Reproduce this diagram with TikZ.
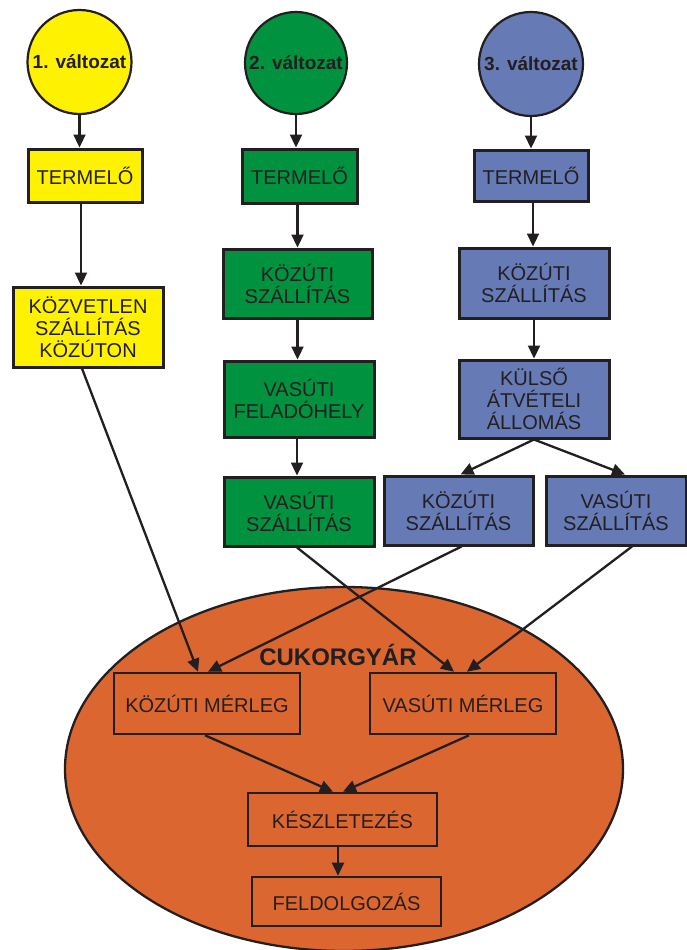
\documentclass[tikz,border=0pt]{standalone}
\usepackage{fontspec}
\setmainfont{Liberation Sans}
\usetikzlibrary{arrows.meta,shapes.geometric}

\definecolor{valtyellow}{RGB}{255,242,0}
\definecolor{valtgreen}{RGB}{0,146,63}
\definecolor{valtblue}{RGB}{102,122,181}
\definecolor{gyarorange}{RGB}{220,102,48}
\definecolor{ink}{RGB}{35,31,32}

\tikzset{
  valt/.style={circle, draw=ink, line width=2.2pt, minimum size=104pt, inner sep=0pt,
    text=ink, font=\fontsize{19}{21}\selectfont\bfseries},
  box/.style={rectangle, draw=ink, line width=3pt, inner sep=0pt, align=center,
    text=ink, font=\fontsize{20}{22}\selectfont},
  mbox/.style={box, line width=2.6pt, minimum width=186pt},
  arr/.style={-{Triangle[length=13pt,width=12pt]}, draw=ink, line width=2.3pt}
}

\begin{document}
\begin{tikzpicture}[x=1pt, y=-1pt]
\useasboundingbox (0,0) rectangle (687,950);

\node[ellipse, draw=ink, fill=gyarorange, line width=2.3pt, inner sep=0pt,
  minimum width=558pt, minimum height=364pt] (gyar) at (344,769) {};
\node[anchor=base, text=ink, font=\fontsize{24}{26}\selectfont\bfseries] (gyarlbl) at (338,665) {CUKORGYÁR};

\node[valt, fill=valtyellow] (c1) at (79.5,62) {1. változat};
\node[valt, fill=valtgreen, minimum size=102pt] (c2) at (296,63) {2. változat};
\node[valt, fill=valtblue] (c3) at (531,64) {3. változat};

\node[box, fill=valtyellow, minimum width=114pt, minimum height=53pt] (t1) at (85,175.5) {TERMELŐ};
\node[box, fill=valtgreen, minimum width=115pt, minimum height=54pt] (t2) at (299.5,176) {TERMELŐ};
\node[box, fill=valtblue, minimum width=114pt, minimum height=51pt] (t3) at (531,175.5) {TERMELŐ};

\node[box, fill=valtyellow, minimum width=150pt, minimum height=80pt] (y1) at (88,327) {KÖZVETLEN\\SZÁLLÍTÁS\\KÖZÚTON};

\node[box, fill=valtgreen, minimum width=149pt, minimum height=69pt] (g1) at (297.5,283.5) {KÖZÚTI\\SZÁLLÍTÁS};
\node[box, fill=valtgreen, minimum width=150pt, minimum height=76pt] (g2) at (299,399) {VASÚTI\\FELADÓHELY};
\node[box, fill=valtgreen, minimum width=150pt, minimum height=69pt] (g3) at (299,511.5) {VASÚTI\\SZÁLLÍTÁS};

\node[box, fill=valtblue, minimum width=150pt, minimum height=70pt] (b1) at (534,283) {KÖZÚTI\\SZÁLLÍTÁS};
\node[box, fill=valtblue, minimum width=150pt, minimum height=78pt] (b2) at (534,399) {KÜLSŐ\\ÁTVÉTELI\\ÁLLOMÁS};
\node[box, fill=valtblue, minimum width=149pt, minimum height=69pt] (b3) at (458.5,510.5) {KÖZÚTI\\SZÁLLÍTÁS};
\node[box, fill=valtblue, minimum width=140pt, minimum height=69pt] (b4) at (616,510.5) {VASÚTI\\SZÁLLÍTÁS};

\node[mbox, minimum height=61pt] (m1) at (207,703.5) {KÖZÚTI MÉRLEG};
\node[mbox, minimum height=61pt] (m2) at (463,703.5) {VASÚTI MÉRLEG};
\node[mbox, minimum width=189pt, minimum height=53pt] (k) at (342.5,819.5) {KÉSZLETEZÉS};
\node[mbox, minimum width=189pt, minimum height=49pt] (f) at (346.5,901.5) {FELDOLGOZÁS};

\draw[arr] (c1) -- (c1 |- t1.north);
\draw[arr] (c2) -- (c2 |- t2.north);
\draw[arr] (c3) -- (c3 |- t3.north);

\draw[arr] ([xshift=-4pt]t1.south) -- ([xshift=-4pt]t1.south |- y1.north);
\draw[arr] ([xshift=-2pt]t2.south) -- ([xshift=-2pt]t2.south |- g1.north);
\draw[arr] (g1.south) -- (g1.south |- g2.north);
\draw[arr] ([xshift=-2pt]g2.south) -- ([xshift=-2pt]g2.south |- g3.north);
\draw[arr] ([xshift=2pt]t3.south) -- ([xshift=2pt]t3.south |- b1.north);
\draw[arr] (b1.south) -- (b1.south |- b2.north);
\draw[arr] (b2.south) -- ([xshift=2pt]b3.north);
\draw[arr] (b2.south) -- ([xshift=9pt]b4.north);

\draw[arr] ([xshift=-6pt]y1.south) -- ([xshift=-9pt]m1.north);
\draw[arr] ([xshift=3pt]b3.south) -- ([xshift=1pt]m1.north);
\draw[arr] ([xshift=-2pt]g3.south) -- ([xshift=-9pt]m2.north);
\draw[arr] ([xshift=16pt]b4.south) -- ([xshift=4pt]m2.north);

\draw[arr] ([xshift=-2pt]m1.south) -- ([xshift=-9.5pt]k.north);
\draw[arr] ([xshift=6pt]m2.south) -- ([xshift=0.5pt]k.north);
\draw[arr] ([xshift=-4.5pt]k.south) -- ([xshift=-4.5pt]k.south |- f.north);
\end{tikzpicture}
\end{document}
